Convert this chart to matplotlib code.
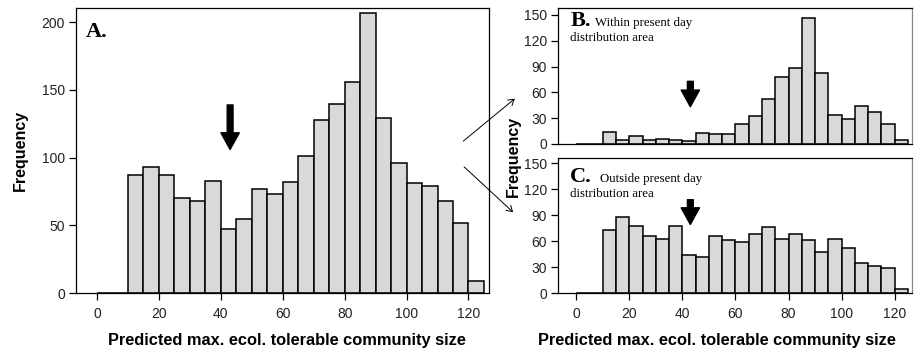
import matplotlib
matplotlib.use("Agg")
import matplotlib.pyplot as plt
from matplotlib.patches import FancyArrowPatch
import numpy as np

# bin left edges (width 5) and counts
bin_left = list(range(0, 125, 5))
all_counts = [0, 0, 87, 93, 87, 70, 68, 83, 47, 55, 77, 73, 82, 101, 128, 140, 156, 207,
              129, 96, 81, 79, 68, 52, 9]
within_counts = [0, 0, 14, 5, 9, 4, 6, 5, 3, 13, 11, 12, 23, 33, 52, 78, 88, 146,
                 82, 34, 29, 44, 37, 23, 4]
outside_counts = [0, 0, 73, 88, 78, 66, 62, 78, 44, 42, 66, 61, 59, 68, 76, 62, 68, 61,
                  47, 62, 52, 35, 31, 29, 5]
marker_x = 43

xlabel = "Predicted max. ecol. tolerable community size"
tick_col = "#222222"
bar_col = "#d9d9db"
serif = "Liberation Serif"

plt.rcParams["font.family"] = ["Liberation Sans", "DejaVu Sans"]

fig = plt.figure(figsize=(9.15, 3.51), dpi=100)
axA = fig.add_axes([0.083, 0.165, 0.451, 0.812])
axB = fig.add_axes([0.610, 0.590, 0.3867, 0.387])
axC = fig.add_axes([0.610, 0.165, 0.3867, 0.385])

big_arrow = dict(arrowstyle="simple,head_width=1.1,head_length=1.0,tail_width=0.35",
                 color="black", mutation_scale=12)


def draw_hist(ax, counts, ymax, yticks, show_x=True):
    ax.bar(bin_left, counts, width=5, align="edge", color=bar_col,
           edgecolor="black", linewidth=1.1)
    ax.set_xlim(-6.8, 126.5)
    ax.set_ylim(0, ymax)
    ax.set_yticks(yticks)
    ax.set_xticks([0, 20, 40, 60, 80, 100, 120])
    ax.tick_params(axis="both", direction="out", length=5, width=0.9,
                   labelsize=10, colors="black", labelcolor=tick_col, pad=3)
    if not show_x:
        ax.tick_params(axis="x", length=0, labelbottom=False)
    for s in ax.spines.values():
        s.set_linewidth(0.9)


draw_hist(axA, all_counts, 210.5, [0, 50, 100, 150, 200])
axA.tick_params(axis="x", pad=5)
axA.set_xlabel(xlabel, fontsize=11.8, fontweight="bold", labelpad=9, x=0.511)
axA.set_ylabel("Frequency", fontsize=11.5, fontweight="bold", labelpad=10)
axA.text(0.024, 0.898, "A.", transform=axA.transAxes, fontsize=16,
         fontweight="bold", family=serif, va="baseline")
axA.annotate("", xy=(marker_x, 104), xytext=(marker_x, 141), arrowprops=big_arrow)

draw_hist(axB, within_counts, 158, [0, 30, 60, 90, 120, 150], show_x=False)
axB.spines["right"].set_color("#888888")
axB.text(0.034, 0.865, "B.", transform=axB.transAxes, fontsize=16,
         fontweight="bold", family=serif, va="baseline")
axB.text(0.105, 0.865, "Within present day", transform=axB.transAxes,
         fontsize=9.3, family=serif, va="baseline")
axB.text(0.034, 0.755, "distribution area", transform=axB.transAxes,
         fontsize=9.3, family=serif, va="baseline")
axB.annotate("", xy=(marker_x, 40), xytext=(marker_x, 76), arrowprops=big_arrow)

draw_hist(axC, outside_counts, 156, [0, 30, 60, 90, 120, 150])
axC.spines["right"].set_color("#888888")
axC.tick_params(axis="x", pad=5)
axC.set_xlabel(xlabel, fontsize=11.8, fontweight="bold", labelpad=9, x=0.449)
axC.text(0.034, 0.822, "C.", transform=axC.transAxes, fontsize=16,
         fontweight="bold", family=serif, va="baseline")
axC.text(0.117, 0.822, "Outside present day", transform=axC.transAxes,
         fontsize=9.3, family=serif, va="baseline")
axC.text(0.034, 0.712, "distribution area", transform=axC.transAxes,
         fontsize=9.3, family=serif, va="baseline")
axC.annotate("", xy=(marker_x, 76), xytext=(marker_x, 111), arrowprops=big_arrow)

fig.text(0.561, 0.555, "Frequency", rotation=90, fontsize=11.5,
         fontweight="bold", ha="center", va="center")

# thin connector arrows from panel A to B and C
for start, end in [((0.504, 0.593), (0.565, 0.724)), ((0.505, 0.530), (0.563, 0.390))]:
    fig.add_artist(FancyArrowPatch(start, end, transform=fig.transFigure,
                                   arrowstyle="->,head_width=2.5,head_length=4",
                                   color="black", linewidth=0.7))

fig.savefig("out.png", dpi=100)
